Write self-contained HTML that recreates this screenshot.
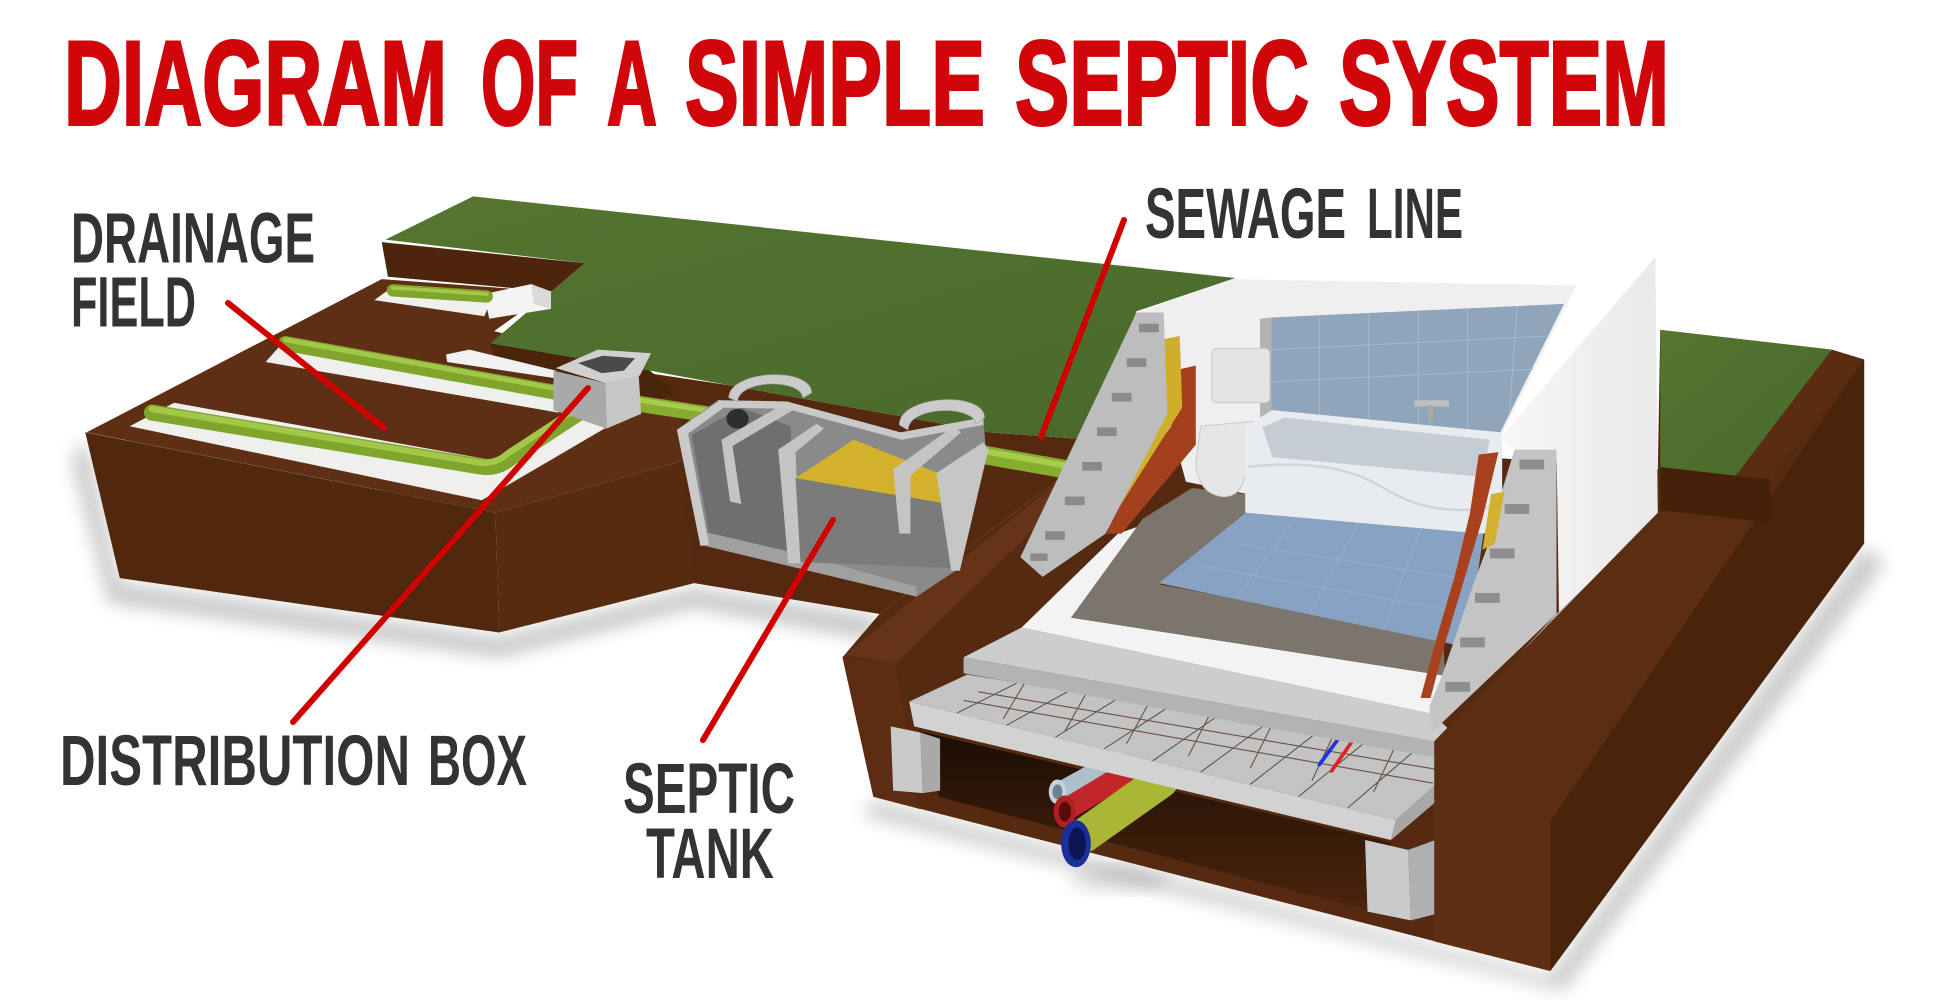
<!DOCTYPE html>
<html>
<head>
<meta charset="utf-8">
<style>
  html,body{margin:0;padding:0;background:#ffffff;}
  body{width:1937px;height:1000px;overflow:hidden;position:relative;}
  svg{position:absolute;left:0;top:0;}
  .t{font-family:"Liberation Sans",Arial,sans-serif;font-weight:bold;}
</style>
</head>
<body>
<svg width="1937" height="1000" viewBox="0 0 1937 1000" xmlns="http://www.w3.org/2000/svg">
  <defs>
    <filter id="blur" x="-20%" y="-20%" width="140%" height="140%"><feGaussianBlur stdDeviation="7"/></filter>
    <linearGradient id="under" x1="0" y1="0" x2="0" y2="1">
      <stop offset="0" stop-color="#1c0d05"/>
      <stop offset="1" stop-color="#4d250c"/>
    </linearGradient>
    <linearGradient id="wallR" x1="0" y1="0" x2="1" y2="0">
      <stop offset="0" stop-color="#f7f7f7"/>
      <stop offset="1" stop-color="#e9e9e9"/>
    </linearGradient>
    <linearGradient id="grassG" x1="0" y1="0" x2="1" y2="1">
      <stop offset="0" stop-color="#557530"/>
      <stop offset="1" stop-color="#48692a"/>
    </linearGradient>
  </defs>

  <rect x="0" y="0" width="1937" height="1000" fill="#ffffff"/>

  <g transform="scale(1.23533)">
    <!-- shadows -->
    <polygon points="69,355 97,472 404,516 562,476 712,500 705,518 562,492 404,532 88,488 58,372" fill="#000" opacity="0.22" filter="url(#blur)"/>
    <polygon points="707,648 1255,790 1509,442 1526,456 1266,802 698,660" fill="#000" opacity="0.2" filter="url(#blur)"/>
    <ellipse cx="905" cy="712" rx="40" ry="10" fill="#000" opacity="0.12" filter="url(#blur)"/>

    <!-- left block faces -->
    <polygon points="69,350 401,415 404,512 97,468" fill="#50280e"/>
    <polygon points="401,415 564,370 562,472 404,512" fill="#572b10"/>

    <!-- pit / tank block -->
    <polygon points="518,301 591,312 801,350 884,356 886,364 853,391 712,497 562,472 548,345 518,330" fill="#55290f"/>

    <!-- right brown mass -->
    <polygon points="682,532 712,497 853,391 886,364 920,350 1342,380 1344,267 1482,283 1509,291 1509,440 1255,786 707,645" fill="#552a10"/>
    <polygon points="684,530 853,393 868,398 725,537" fill="#653318"/>
    <polygon points="682,532 725,537 745,655 707,645" fill="#5c2d12"/>

    <!-- left block top surface -->
    <polygon points="70,350 309,226 445,236 400,268 526,300 548,335 564,370 401,415" fill="#5e2f15"/>
    <polygon points="309,196 473,213 470,228 445,236 392,231 314,224" fill="#4d250d"/>
    <polygon points="397,278 526,300 548,318 518,330 470,318 400,288" fill="#4b240c"/>

    <!-- grass main -->
    <polygon points="312,194 383,159 1000,225 920,252 884,356 801,350 591,312 526,300 397,278 473,213" fill="url(#grassG)"/>

    <!-- gravel strips -->
    <polygon points="105,345 141,326 401,373 470,333 491,346 390,405" fill="#efefed"/>
    <polygon points="215,293 231,275 455,318 452,334" fill="#efefed"/>
    <polygon points="361,287 380,283 450,300 448,306 362,293" fill="#f2f2f2"/>
    <polygon points="303,243 318,232 397,245 392,256" fill="#efefed"/>
    <polygon points="392,238 430,230 446,236 446,250 396,258" fill="#f4f4f4"/>
    <polygon points="430,230 446,236 446,250 432,246" fill="#d9d9d9"/>

    <!-- drainage pipes -->
    <g fill="none" stroke-linecap="round" stroke-linejoin="round">
      <path d="M123,334 L385,377 Q402,381 414,370 L472,332" stroke="#7fa52c" stroke-width="13"/>
      <path d="M123,331 L385,374 Q400,377 411,367 L469,329" stroke="#a3c849" stroke-width="5"/>
      <path d="M231,278 L452,318" stroke="#7fa52c" stroke-width="12"/>
      <path d="M231,275 L452,315" stroke="#a3c849" stroke-width="4"/>
      <path d="M318,235 L394,240" stroke="#7fa52c" stroke-width="10"/>
      <path d="M318,233 L394,238" stroke="#a3c849" stroke-width="3"/>
      <path d="M505,325 L590,338" stroke="#86ad2f" stroke-width="13"/>
      <path d="M505,322 L590,335" stroke="#a8cc4c" stroke-width="4"/>
      <path d="M790,367 L880,383" stroke="#86ad2f" stroke-width="15"/>
      <path d="M790,364 L880,380" stroke="#a8cc4c" stroke-width="5"/>
    </g>

    <!-- distribution box -->
    <polygon points="448,300 490,310 491,347 448,332" fill="#a9a9a9"/>
    <polygon points="490,310 517,303 519,335 491,347" fill="#c6c6c6"/>
    <polygon points="450,298 484,283 527,286 518,304 490,310" fill="#d0d0d0"/>
    <polygon points="468,294 488,288 514,290 505,300 487,302" fill="#4a4a4a"/>

    <!-- septic tank -->
    <polygon points="548,348 581,324 637,325 729,350 796,338 798,364 775,461 742,483 567,441" fill="#8a8a8a"/>
    <polygon points="560,352 600,330 640,345 645,456 575,438" fill="#6f6f6f"/>
    <polygon points="568,430 645,448 742,475 742,483 567,441" fill="#a0a0a0"/>
    <polygon points="548,348 583,324 590,327 557,351 574,441 567,442" fill="#cacaca"/>
    <ellipse cx="597" cy="339" rx="9" ry="8" fill="#2e2e2e"/>
    <polygon points="584,356 636,326 642,332 593,361 600,408 591,406" fill="#c4c4c4"/>
    <polygon points="630,364 661,343 667,347 644,366 648,456 638,456" fill="#c4c4c4"/>
    <polygon points="644,387 691,356 762,384 762,407" fill="#d3b22b"/>
    <polygon points="644,387 762,407 772,460 648,455" fill="#7b7b7b"/>
    <polygon points="723,380 772,345 778,350 737,385 737,432 728,432" fill="#c4c4c4"/>
    <polygon points="758,383 796,358 800,364 777,462 770,462" fill="#c6c6c6"/>
    <polygon points="581,324 637,325 729,350 796,338 796,344 730,356 637,331 586,330" fill="#c9c9c9"/>
    <path d="M590,322 C590,300 656,296 657,318 L650,322 C648,306 598,307 597,325 Z" fill="#cbcbcb" stroke="#a8a8a8" stroke-width="0.6"/>
    <path d="M728,344 C728,320 796,316 797,338 L790,343 C788,328 736,328 735,348 Z" fill="#cbcbcb" stroke="#a8a8a8" stroke-width="0.6"/>

    <!-- under deck dark -->
    <polygon points="745,592 1126,682 1126,742 760,645" fill="url(#under)"/>

    <!-- pipes under deck -->
    <g stroke-linecap="round">
      <line x1="856" y1="641" x2="905" y2="614" stroke="#aebfcc" stroke-width="14"/>
      <ellipse cx="856" cy="641" rx="7" ry="10" fill="#c3d3e0"/>
      <ellipse cx="856" cy="641" rx="4" ry="6" fill="#6f8090"/>
      <line x1="862" y1="656" x2="915" y2="624" stroke="#c0262a" stroke-width="18"/>
      <ellipse cx="862" cy="657" rx="9" ry="13" fill="#b01f22"/>
      <ellipse cx="862" cy="657" rx="5" ry="8" fill="#5a0c0d"/>
      <line x1="878" y1="676" x2="940" y2="632" stroke="#a9b734" stroke-width="28"/>
      <ellipse cx="871" cy="683" rx="12" ry="19" fill="#1b2f9a"/>
      <ellipse cx="872" cy="683" rx="7" ry="13" fill="#0a1450"/>
    </g>

    <!-- pillars -->
    <polygon points="721,588 745,593 747,642 723,640" fill="#cacaca"/>
    <polygon points="745,593 761,598 761,640 747,642" fill="#a9a9a9"/>
    <polygon points="1105,680 1140,688 1142,745 1107,738" fill="#cacaca"/>
    <polygon points="1140,688 1162,680 1162,740 1142,745" fill="#b0b0b0"/>

    <!-- deck -->
    <polygon points="736,568 783,546 1187,613 1130,664" fill="#c3c3c3"/>
    <g stroke="#4d4d4d" stroke-width="0.8">
      <line x1="823" y1="553" x2="775" y2="577"/>
      <line x1="864" y1="560" x2="815" y2="587"/>
      <line x1="904" y1="566" x2="854" y2="597"/>
      <line x1="945" y1="573" x2="894" y2="606"/>
      <line x1="985" y1="580" x2="933" y2="616"/>
      <line x1="1025" y1="586" x2="972" y2="625"/>
      <line x1="1066" y1="593" x2="1012" y2="635"/>
      <line x1="1106" y1="600" x2="1051" y2="645"/>
      <line x1="1147" y1="606" x2="1091" y2="654"/>
    </g>
    <g stroke="#6b5040" stroke-width="0.9">
      <line x1="792" y1="560" x2="1170" y2="624"/>
      <line x1="780" y1="567" x2="1160" y2="634"/>
      <line x1="830" y1="552" x2="812" y2="582"/>
      <line x1="880" y1="560" x2="862" y2="592"/>
      <line x1="930" y1="569" x2="912" y2="602"/>
      <line x1="980" y1="577" x2="962" y2="612"/>
      <line x1="1030" y1="586" x2="1012" y2="622"/>
      <line x1="1080" y1="594" x2="1062" y2="632"/>
      <line x1="1130" y1="603" x2="1112" y2="641"/>
    </g>
    <line x1="1068" y1="619" x2="1093" y2="585" stroke="#2233dd" stroke-width="3" stroke-linecap="round"/>
    <line x1="1078" y1="624" x2="1103" y2="588" stroke="#e02222" stroke-width="3" stroke-linecap="round"/>
    <polygon points="736,568 1130,664 1126,680 740,588" fill="#d2d2d2"/>
    <polygon points="1130,664 1187,613 1187,628 1126,680" fill="#a8a8a8"/>

    <!-- slab -->
    <polygon points="780,532 1188,605 1188,618 780,545" fill="#b3b3b3"/>
    <polygon points="780,532 827,508 1160,578 1188,605" fill="#cdcdcd"/>
    <polygon points="827,508 905,432 925,425 867,500 1170,547 1160,578" fill="#f3f3f3"/>
    <polygon points="867,500 925,420 965,395 1008,400 1011,413 938,473 1168,516 1170,547" fill="#7c756d"/>
    <polygon points="1011,413 1201,431 1188,524 938,472" fill="#87a2c2"/>
    <g stroke="#9bb3cf" stroke-width="0.8" opacity="0.8">
      <line x1="1000" y1="440" x2="1195" y2="470"/>
      <line x1="970" y1="458" x2="1192" y2="497"/>
      <line x1="1050" y1="418" x2="1000" y2="485"/>
      <line x1="1100" y1="423" x2="1060" y2="497"/>
      <line x1="1150" y1="428" x2="1120" y2="509"/>
    </g>

    <!-- back wall -->
    <polygon points="920,253 998,226 1276,231 1214,355 1205,365 1010,400 960,390 945,335 942,253" fill="#efefef"/>
    <polygon points="1020,258 1029,257 1029,336 1020,338" fill="#b3b3b3"/>
    <polygon points="1029,257 1266,246 1214,351 1029,335" fill="#8fa5bb"/>
    <g stroke="#a7b9cb" stroke-width="0.8">
      <line x1="1029" y1="283" x2="1254" y2="272"/>
      <line x1="1029" y1="309" x2="1241" y2="299"/>
      <line x1="1068" y1="256" x2="1068" y2="339"/>
      <line x1="1108" y1="254" x2="1108" y2="342"/>
      <line x1="1148" y1="252" x2="1148" y2="346"/>
      <line x1="1188" y1="250" x2="1188" y2="349"/>
      <line x1="1228" y1="248" x2="1222" y2="335"/>
    </g>
    <!-- toilet -->
    <rect x="981" y="282" width="47" height="44" rx="4" fill="#e4e4e4" stroke="#c6c6c6" stroke-width="0.8"/>
    <path d="M972,345 L1025,340 L1030,350 Q1012,368 1008,385 Q1005,402 990,402 Q970,400 968,375 Z" fill="#e6e6e6" stroke="#c8c8c8" stroke-width="0.8"/>
    <!-- bathtub -->
    <polygon points="1008,345 1030,332 1216,350 1216,430 1200,432 1008,415" fill="#e9ecef"/>
    <polygon points="1022,346 1040,338 1206,356 1200,386 1030,370" fill="#c5ccd3"/>
    <path d="M1010,378 Q1080,370 1120,395 Q1160,420 1210,410" fill="none" stroke="#cfd4d9" stroke-width="2"/>
    <rect x="1145" y="324" width="28" height="5" fill="#bfbfbf"/>
    <rect x="1156" y="328" width="4" height="14" fill="#a9a9a9"/>

    <!-- right white wall -->
    <polygon points="1214,355 1340,208 1342,418 1262,497 1260,364 1226,364" fill="url(#wallR)"/>
    <polygon points="1342,418 1344,426 1262,505 1188,605 1165,600 1260,497" fill="#b9b9b9"/>
    <line x1="1344" y1="428" x2="1166" y2="604" stroke="#2a1a10" stroke-width="2"/>

    <!-- right block column -->
    <polygon points="1226,364 1260,364 1260,497 1160,592 1157,572 1168,545 1180,510 1192,475 1205,440 1215,400" fill="#c4c4c4"/>
    <g fill="#8e8e8e">
      <rect x="1230" y="372" width="20" height="8"/>
      <rect x="1218" y="408" width="20" height="8"/>
      <rect x="1206" y="444" width="20" height="8"/>
      <rect x="1194" y="480" width="20" height="8"/>
      <rect x="1182" y="516" width="20" height="8"/>
      <rect x="1170" y="552" width="20" height="8"/>
    </g>
    <polygon points="1197,368 1213,366 1200,420 1185,470 1170,520 1158,565 1150,565 1162,520 1178,465 1190,415" fill="#a9411f"/>
    <polygon points="1207,400 1218,398 1210,440 1200,445" fill="#d2b12e"/>

    <!-- left wall: blocks, insulation, brick -->
    <polygon points="950,300 968,296 968,360 908,432 896,432 905,405 948,345" fill="#a3401e"/>
    <polygon points="940,275 955,272 957,330 900,420 890,410 935,330" fill="#cfae2b"/>
    <polygon points="920,253 942,253 945,335 895,432 844,467 826,451" fill="#bdbdbd"/>
    <g fill="#8a8a8a">
      <rect x="922" y="262" width="16" height="7"/>
      <rect x="912" y="290" width="16" height="7"/>
      <rect x="900" y="318" width="16" height="7"/>
      <rect x="888" y="346" width="16" height="7"/>
      <rect x="876" y="374" width="16" height="7"/>
      <rect x="862" y="402" width="16" height="7"/>
      <rect x="846" y="430" width="16" height="7"/>
      <rect x="834" y="448" width="14" height="6"/>
    </g>

    <!-- right arm -->
    <polygon points="1161,600 1344,413 1433,423 1509,291 1255,665 1161,648" fill="#5b2d12"/>
    <polygon points="1255,665 1509,291 1509,440 1255,786" fill="#4a230b"/>
    <polygon points="1161,648 1255,665 1255,786 1161,762" fill="#5e2f14"/>
    <polygon points="1344,378 1405,385 1433,388 1433,423 1344,413" fill="#45210a"/>
    <polygon points="1483,283 1509,291 1433,388 1405,385" fill="#5a2c12"/>
    <polygon points="1344,267 1483,283 1405,385 1344,378" fill="url(#grassG)"/>
  </g>

  <!-- red pointer lines -->
  <g stroke="#d10000" stroke-width="6" stroke-linecap="round">
    <line x1="228" y1="303" x2="384" y2="428"/>
    <line x1="588" y1="388" x2="293" y2="722"/>
    <line x1="1124" y1="220" x2="1041" y2="437"/>
    <line x1="833" y1="520" x2="703" y2="740"/>
  </g>

  <!-- title -->
  <g class="t" fill="#d0060b" stroke="#d0060b" stroke-width="3" stroke-linejoin="miter" font-size="120">
    <text x="64" y="124.5" textLength="383" lengthAdjust="spacingAndGlyphs">DIAGRAM</text>
    <text x="481" y="124.5" textLength="97" lengthAdjust="spacingAndGlyphs">OF</text>
    <text x="607" y="124.5" textLength="50" lengthAdjust="spacingAndGlyphs">A</text>
    <text x="685" y="124.5" textLength="300" lengthAdjust="spacingAndGlyphs">SIMPLE</text>
    <text x="1015" y="124.5" textLength="294" lengthAdjust="spacingAndGlyphs">SEPTIC</text>
    <text x="1339" y="124.5" textLength="330" lengthAdjust="spacingAndGlyphs">SYSTEM</text>
  </g>

  <!-- labels -->
  <g class="t" fill="#333333" font-size="71">
    <text x="71" y="262.5" textLength="244" lengthAdjust="spacingAndGlyphs">DRAINAGE</text>
    <text x="71" y="326.5" textLength="125" lengthAdjust="spacingAndGlyphs">FIELD</text>
    <text x="1145" y="238" textLength="201" lengthAdjust="spacingAndGlyphs">SEWAGE</text>
    <text x="1367" y="238" textLength="96" lengthAdjust="spacingAndGlyphs">LINE</text>
    <text x="60" y="785" textLength="350" lengthAdjust="spacingAndGlyphs">DISTRIBUTION</text>
    <text x="428" y="785" textLength="99" lengthAdjust="spacingAndGlyphs">BOX</text>
    <text x="623" y="813" textLength="172" lengthAdjust="spacingAndGlyphs">SEPTIC</text>
    <text x="646" y="878" textLength="128" lengthAdjust="spacingAndGlyphs">TANK</text>
  </g>
</svg>
</body>
</html>
